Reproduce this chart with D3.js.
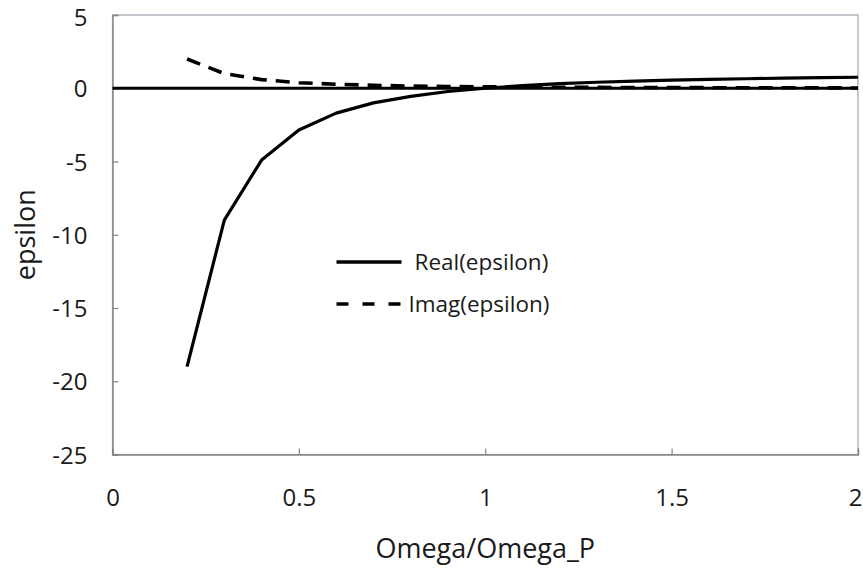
<!DOCTYPE html>
<html>
<head>
<meta charset="utf-8">
<script src="https://cdn.jsdelivr.net/npm/d3@7"></script>
<style>
  body { margin: 0; background: #fff; }
  text { font-family: "Open Sans", sans-serif; fill: #1a1a1a; }
</style>
</head>
<body>
<div id="chart"></div>
<script>
// values
const omega = [0.2, 0.3, 0.4, 0.5, 0.6, 0.7, 0.8, 0.9, 1.0, 1.1, 1.2, 1.3, 1.4, 1.5, 1.6, 1.7, 1.8, 1.9, 2.0];
const realEps = [-19.0, -9.0, -4.9, -2.85, -1.7, -1.0, -0.55, -0.22, 0.0, 0.18, 0.31, 0.41, 0.49, 0.55, 0.6, 0.65, 0.69, 0.72, 0.75];
const imagEps = [2.0, 1.0, 0.59, 0.38, 0.27, 0.2, 0.15, 0.12, 0.1, 0.08, 0.07, 0.06, 0.05, 0.04, 0.04, 0.03, 0.03, 0.03, 0.02];
const zeroLine = [[0, 0], [2, 0]];
const xTicks = [0, 0.5, 1, 1.5, 2];
const yTicks = [5, 0, -5, -10, -15, -20, -25];

let margin = ({top: 15, right: 5, bottom: 118.5, left: 112.5});
let width = 863 - margin.left - margin.right;
let height = 573 - margin.top - margin.bottom;

let svg = d3.select('#chart')
    .append('svg')
        .attr("width", 863)
        .attr("height", 573)
    .append('g')
        .attr("transform", "translate(" + margin.left + "," + margin.top + ")");

let x = d3.scaleLinear().domain([0, 2]).range([0, width]);
let y = d3.scaleLinear().domain([-25, 5]).range([height, 0]);

// plot frame (top/right lighter)
svg.append("rect")
    .attr("x", 0).attr("y", 0)
    .attr("width", width).attr("height", height)
    .attr("fill", "none")
    .attr("stroke", "#9ea8b2")
    .attr("stroke-width", 1.2);

// axes, ticks inside
let xaxis = svg.append('g')
    .attr("transform", "translate(0," + height + ")")
    .call(d3.axisBottom(x).tickValues(xTicks).tickSize(-6).tickPadding(34)
        .tickFormat(d => d));
let yaxis = svg.append('g')
    .call(d3.axisLeft(y).tickValues(yTicks).tickSize(-6).tickPadding(25)
        .tickFormat(d => d));
[xaxis, yaxis].forEach(a => {
    a.select(".domain").attr("stroke", "#868686").attr("stroke-width", 1.4);
    a.selectAll(".tick line").attr("stroke", "#868686").attr("stroke-width", 1.2);
    a.selectAll(".tick text")
        .attr("font-size", 24)
        .attr("font-family", "Open Sans")
        .attr("fill", "#1a1a1a");
});
yaxis.selectAll(".tick text").attr("dy", "0.36em");
// keep the last x label inside the window, as in the picture
xaxis.selectAll(".tick text").filter(d => d == 2).attr("dx", -3);
yaxis.selectAll(".tick text").filter(d => d == 5).attr("dy", "0.45em");

// axis titles
svg.append("text")
    .attr("x", width / 2)
    .attr("y", height + 103)
    .attr("text-anchor", "middle")
    .attr("font-size", 27)
    .text("Omega/Omega_P");
svg.append("text")
    .attr("transform", "rotate(-90)")
    .attr("x", -height / 2)
    .attr("y", -78)
    .attr("text-anchor", "middle")
    .attr("font-size", 27)
    .text("epsilon");

let line = d3.line().x(d => x(d[0])).y(d => y(d[1]));

// zero line
svg.append("path")
    .datum(zeroLine)
    .attr("d", line)
    .attr("fill", "none")
    .attr("stroke", "#000")
    .attr("stroke-width", 2.8);

// real part
svg.append("path")
    .datum(omega.map((w, i) => [w, realEps[i]]))
    .attr("d", line)
    .attr("fill", "none")
    .attr("stroke", "#000")
    .attr("stroke-width", 3.2)
    .attr("stroke-linejoin", "round");

// imaginary part
svg.append("path")
    .datum(omega.map((w, i) => [w, imagEps[i]]))
    .attr("d", line)
    .attr("fill", "none")
    .attr("stroke", "#000")
    .attr("stroke-width", 3.6)
    .attr("stroke-dasharray", "14,9");

// legend
let legend = svg.append("g").attr("transform", "translate(" + (336.5 - margin.left) + "," + (262 - margin.top) + ")");
let items = [{name: "Real(epsilon)", dash: null}, {name: "Imag(epsilon)", dash: "12,14"}];
items.forEach((it, i) => {
    let g = legend.append("g").attr("transform", "translate(0," + (i * 42) + ")");
    g.append("line")
        .attr("x1", 0).attr("x2", 65)
        .attr("stroke", "#000")
        .attr("stroke-width", 3.4)
        .attr("stroke-dasharray", it.dash);
    g.append("text")
        .attr("x", i == 0 ? 78 : 72)
        .attr("dy", "0.36em")
        .attr("font-size", 22.5)
        .text(it.name);
});
</script>
</body>
</html>
